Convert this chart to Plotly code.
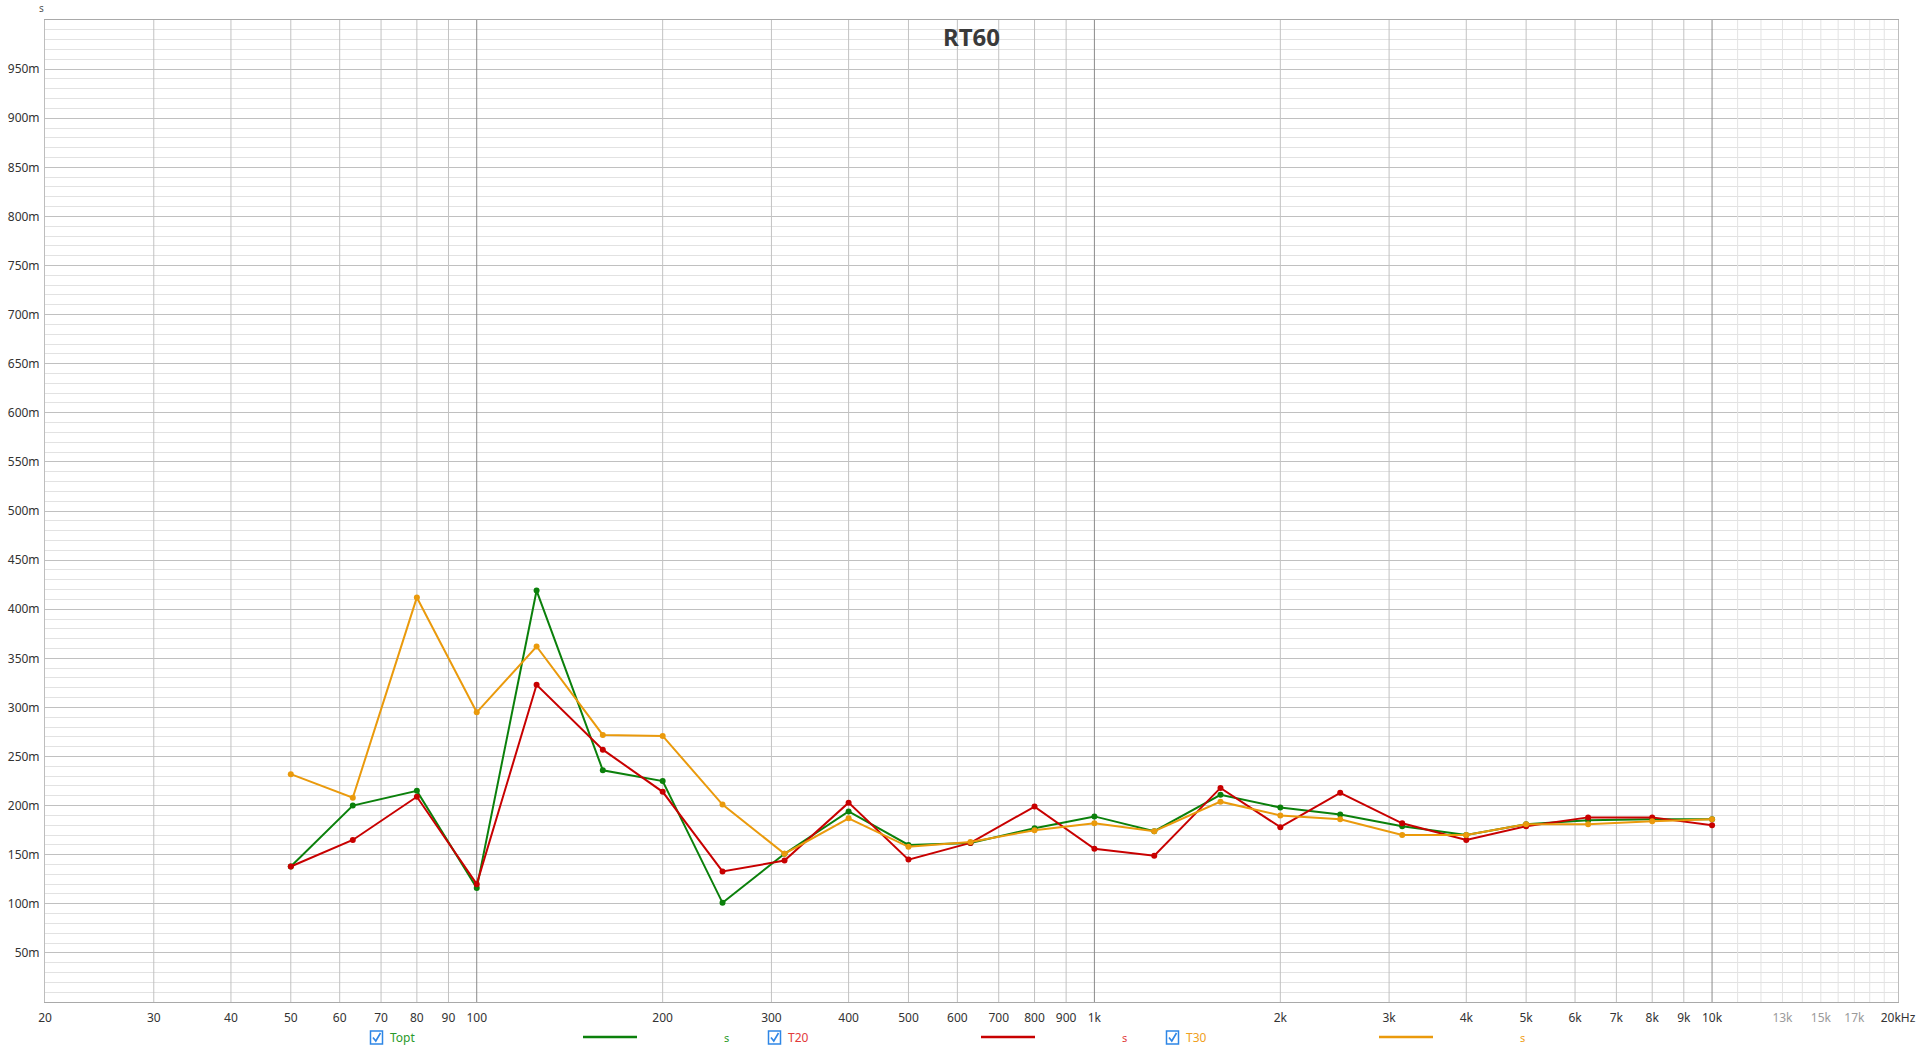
import plotly.graph_objects as go

# ---------------- data ----------------
freqs = [50, 63, 80, 100, 125, 160, 200, 250, 315, 400, 500, 630, 800,
         1000, 1250, 1600, 2000, 2500, 3150, 4000, 5000, 6300, 8000, 10000]

topt = [0.138, 0.200, 0.215, 0.116, 0.419, 0.236, 0.225, 0.101, 0.151, 0.194,
        0.160, 0.162, 0.177, 0.189, 0.174, 0.211, 0.198, 0.191, 0.179, 0.170,
        0.181, 0.185, 0.186, 0.186]
t20 = [0.138, 0.165, 0.209, 0.120, 0.323, 0.257, 0.214, 0.133, 0.144, 0.203,
       0.145, 0.162, 0.199, 0.156, 0.149, 0.218, 0.178, 0.213, 0.182, 0.165,
       0.179, 0.188, 0.188, 0.180]
t30 = [0.232, 0.208, 0.412, 0.295, 0.362, 0.272, 0.271, 0.201, 0.151, 0.187,
       0.158, 0.163, 0.175, 0.182, 0.174, 0.204, 0.190, 0.186, 0.170, 0.170,
       0.181, 0.181, 0.184, 0.186]

series_names = ["Topt", "T20", "T30"]
series_values = [topt, t20, t30]
series_colors = ["#0b800b", "#c80000", "#ea9a0c"]
legend_text_colors = ["#2a9a2a", "#e23a3a", "#f0a020"]

x_tick_vals = [20, 30, 40, 50, 60, 70, 80, 90, 100, 200, 300, 400, 500, 600,
               700, 800, 900, 1000, 2000, 3000, 4000, 5000, 6000, 7000, 8000,
               9000, 10000, 13000, 15000, 17000, 20000]
x_tick_text = ["20", "30", "40", "50", "60", "70", "80", "90", "100", "200",
               "300", "400", "500", "600", "700", "800", "900", "1k", "2k",
               "3k", "4k", "5k", "6k", "7k", "8k", "9k", "10k",
               "13k", "15k", "17k", "20kHz"]
x_tick_grey = ["13k", "15k", "17k"]

y_tick_vals = [0.05 * i for i in range(1, 20)]
y_tick_text = ["%dm" % (50 * i) for i in range(1, 20)]

grid_mid = [30, 40, 50, 60, 70, 80, 90, 200, 300, 400, 500, 600, 700, 800,
            900, 2000, 3000, 4000, 5000, 6000, 7000, 8000, 9000]
grid_dark = [100, 1000, 10000]
grid_light = [11000, 12000, 13000, 14000, 15000, 16000, 17000, 18000, 19000]

# ---------------- geometry (pixels) ----------------
W, H = 1920, 1050
ML, MR, MT, MB = 45, 22, 20, 48
PW = W - ML - MR
PH = H - MT - MB


def px(x):
    return (x - ML) / PW


def py(y):
    return (H - MB - y) / PH


fig = go.Figure()


def vlines(vals, color):
    xs, ys = [], []
    for v in vals:
        xs += [v, v, None]
        ys += [0, 1.0, None]
    fig.add_trace(go.Scatter(x=xs, y=ys, mode="lines",
                             line=dict(color=color, width=1),
                             hoverinfo="skip", showlegend=False))


vlines(grid_light, "#e3e3e3")
vlines(grid_mid, "#c2c2c2")
vlines(grid_dark, "#8a8a8a")

for name, vals, col in zip(series_names, series_values, series_colors):
    fig.add_trace(go.Scatter(x=freqs, y=vals, mode="lines+markers", name=name,
                             line=dict(color=col, width=2),
                             marker=dict(color=col, size=6),
                             showlegend=False))

tick_text_html = [
    ('<span style="color:#9a9a9a">%s</span>' % t) if t in x_tick_grey else t
    for t in x_tick_text
]

font_family = "Noto Sans, Open Sans, DejaVu Sans, sans-serif"

fig.update_layout(
    width=W, height=H,
    margin=dict(l=ML, r=MR, t=MT, b=MB, pad=0, autoexpand=False),
    paper_bgcolor="white", plot_bgcolor="white",
    font=dict(family=font_family, size=12, color="#333333"),
    showlegend=False,
    xaxis=dict(type="log", range=[1.30103, 4.30103], automargin=False,
               tickvals=x_tick_vals, ticktext=tick_text_html,
               showgrid=False, zeroline=False, ticks="",
               ticklabelstandoff=5,
               showline=True, mirror=True, linecolor="#a9a9a9", linewidth=1,
               tickfont=dict(size=12, color="#333333")),
    yaxis=dict(range=[0, 1.0], tickvals=y_tick_vals, ticktext=y_tick_text,
               automargin=False,
               showgrid=True, gridcolor="#c0c0c0", gridwidth=1,
               zeroline=False, ticks="", ticklabelstandoff=2,
               showline=True, mirror=True, linecolor="#bdbdbd", linewidth=1,
               minor=dict(dtick=0.01, showgrid=True, gridcolor="#e2e2e2",
                          gridwidth=1, ticks=""),
               tickfont=dict(size=12, color="#333333")),
)

annotations = []
shapes = []

# title inside plot
annotations.append(dict(text="<b>RT60</b>", x=0.5, y=py(36), xref="paper",
                        yref="paper", showarrow=False, xanchor="center",
                        yanchor="middle",
                        font=dict(size=24, color="#3a3a3a", family=font_family)))
# unit label
annotations.append(dict(text="s", x=px(41), y=py(8), xref="paper", yref="paper",
                        showarrow=False, xanchor="center", yanchor="middle",
                        font=dict(size=10, color="#555555")))

# custom legend
leg_y = 1037
step = 398
for i, (name, lcol, tcol) in enumerate(zip(series_names, series_colors,
                                           legend_text_colors)):
    off = i * step
    # checkbox
    shapes.append(dict(type="rect", xref="paper", yref="paper",
                       x0=px(370.5 + off), x1=px(382.5 + off),
                       y0=py(1031), y1=py(1044),
                       line=dict(color="#2e86e6", width=1.5),
                       fillcolor="white"))
    shapes.append(dict(type="path", xref="paper", yref="paper",
                       path="M %f %f L %f %f L %f %f" % (
                           px(373 + off), py(1037.5),
                           px(375.8 + off), py(1041),
                           px(380.5 + off), py(1033)),
                       line=dict(color="#2e86e6", width=1.6)))
    annotations.append(dict(text=name, x=px(388 + off), y=py(leg_y),
                            xref="paper", yref="paper", showarrow=False,
                            xanchor="left", yanchor="middle",
                            font=dict(size=12, color=tcol)))
    shapes.append(dict(type="line", xref="paper", yref="paper",
                       x0=px(583 + off), x1=px(637 + off),
                       y0=py(1037), y1=py(1037),
                       line=dict(color=lcol, width=2.5)))
    annotations.append(dict(text="s", x=px(726 + off), y=py(leg_y),
                            xref="paper", yref="paper", showarrow=False,
                            xanchor="center", yanchor="middle",
                            font=dict(size=11, color=tcol)))

fig.update_layout(annotations=annotations, shapes=shapes)

fig.write_html(
    "out.html",
    config={"displayModeBar": False},
    post_script="document.body.style.margin='0';"
                "document.body.style.overflow='hidden';",
)
